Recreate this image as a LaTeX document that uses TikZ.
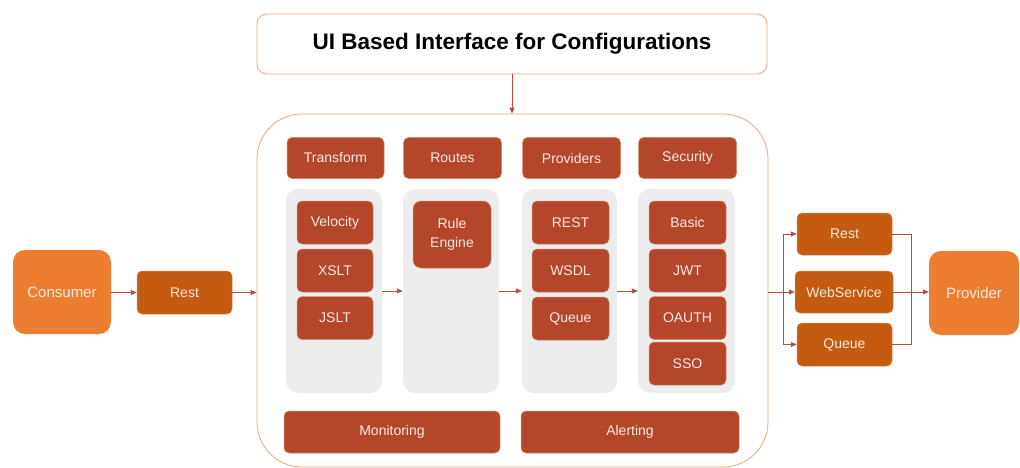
\documentclass[tikz,border=0pt]{standalone}
\usepackage{fontspec}
\setmainfont{Liberation Sans}
\usetikzlibrary{arrows.meta}
\definecolor{dred}{HTML}{B4472A}
\definecolor{dorange}{HTML}{C55A11}
\definecolor{lorange}{HTML}{ED7D31}
\definecolor{bord}{HTML}{E9A97E}
\definecolor{panelgrey}{HTML}{EDEDED}
\definecolor{linecol}{HTML}{B5503E}
\definecolor{txtlight}{HTML}{F6E9E2}
\tikzset{
  base/.style={font=\fontsize{14}{16}\selectfont, text=txtlight, align=center, inner sep=0pt},
  redbox/.style={base, fill=dred, draw=bord!70!dred, line width=0.5pt, rounded corners=5pt},
  obox/.style={base, fill=dorange, draw=bord!60!dorange, line width=0.5pt, rounded corners=5pt},
  bigbox/.style={base, fill=lorange, rounded corners=12pt, font=\fontsize{15}{17}\selectfont},
  panel/.style={fill=panelgrey, rounded corners=12pt, inner sep=0pt, minimum width=96pt, minimum height=204pt},
  conn/.style={draw=linecol, line width=0.8pt},
  arr/.style={conn, -{Triangle[length=6pt,width=5pt]}}
}
\begin{document}
\begin{tikzpicture}[x=1pt,y=-1pt]
\useasboundingbox (0,0) rectangle (1020,468);
% title and container
\node[draw=bord, line width=0.8pt, fill=white, rounded corners=10pt, minimum width=510pt, minimum height=60pt,
  font=\fontsize{22.5}{25}\selectfont\bfseries, text=black] (title) at (512,44) {UI Based Interface for Configurations};
\node[draw=bord, line width=0.8pt, rounded corners=45pt, minimum width=511pt, minimum height=353pt, inner sep=0pt] (container) at (512.5,290.5) {};
% headers
\node[redbox, minimum width=97pt, minimum height=41pt] (transform) at (335.5,158) {Transform};
\node[redbox, minimum width=98pt, minimum height=41pt] (routes) at (452.5,158) {Routes};
\node[redbox, minimum width=98pt, minimum height=41pt] (providers) at (571.5,158) {Providers};
\node[redbox, minimum width=98pt, minimum height=41pt] (security) at (687.5,158) {Security};
% panels
\node[panel] (tpanel) at (334,291) {};
\node[panel] (rpanel) at (451,291) {};
\node[panel, minimum width=95pt] (ppanel) at (569.5,291) {};
\node[panel, minimum width=97pt] (spanel) at (686.5,291) {};
% transform items
\node[redbox, minimum width=76pt, minimum height=43pt] (velocity) at (335,222.5) {Velocity};
\node[redbox, minimum width=76pt, minimum height=43pt] (xslt) at (335,270.5) {XSLT};
\node[redbox, minimum width=76pt, minimum height=43pt] (jslt) at (335,318) {JSLT};
% routes
\node[redbox, minimum width=78pt, minimum height=67pt, rounded corners=8pt] (rule) at (452,234.5) {Rule\\[3pt]Engine};
% providers
\node[redbox, minimum width=77pt, minimum height=43pt] (rest) at (570.5,222.5) {REST};
\node[redbox, minimum width=77pt, minimum height=43pt] (wsdl) at (570.5,270.5) {WSDL};
\node[redbox, minimum width=77pt, minimum height=43pt] (queue) at (570.5,318.5) {Queue};
% security
\node[redbox, minimum width=77pt, minimum height=43pt] (basic) at (687.5,222.5) {Basic};
\node[redbox, minimum width=77pt, minimum height=43pt] (jwt) at (687.5,270.5) {JWT};
\node[redbox, minimum width=77pt, minimum height=43pt] (oauth) at (687.5,318) {OAUTH};
\node[redbox, minimum width=77pt, minimum height=43pt] (sso) at (687.5,363.5) {SSO};
% bottom
\node[redbox, minimum width=216pt, minimum height=42pt] (monitoring) at (392,432) {Monitoring};
\node[redbox, minimum width=218pt, minimum height=42pt] (alerting) at (630,432) {Alerting};
% left side
\node[bigbox, minimum width=98pt, minimum height=84pt] (consumer) at (62,292) {Consumer};
\node[obox, minimum width=95pt, minimum height=43pt] (restL) at (184.5,292.5) {Rest};
% right side
\node[obox, minimum width=95pt, minimum height=42pt] (restR) at (844.5,234) {Rest};
\node[obox, minimum width=98pt, minimum height=42pt] (webs) at (844,292) {WebService};
\node[obox, minimum width=95pt, minimum height=43pt] (queueR) at (844.5,344.5) {Queue};
\node[bigbox, minimum width=90pt, minimum height=84pt] (provider) at (974,293) {Provider};
% connectors
\draw[arr] (title.south) -- (title.south |- container.north);
\draw[arr] (consumer.east |- restL.west) -- (restL.west);
\draw[arr] (restL.east) -- (restL.east -| container.west);
\draw[arr] (tpanel.east) -- (rpanel.west);
\draw[arr] (rpanel.east) -- (ppanel.west);
\draw[arr] (ppanel.east) -- (spanel.west);
\coordinate (sp) at (783,292);
\coordinate (jn) at (911,292);
\draw[conn] (sp -| container.east) -- (sp);
\draw[arr] (sp) |- (restR.west);
\draw[arr] (sp) -- (webs.west);
\draw[arr] (sp) |- (queueR.west);
\draw[conn] (restR.east) -| (jn);
\draw[conn] (queueR.east) -| (jn);
\draw[arr] (webs.east) -- (webs.east -| provider.west);
\end{tikzpicture}
\end{document}
